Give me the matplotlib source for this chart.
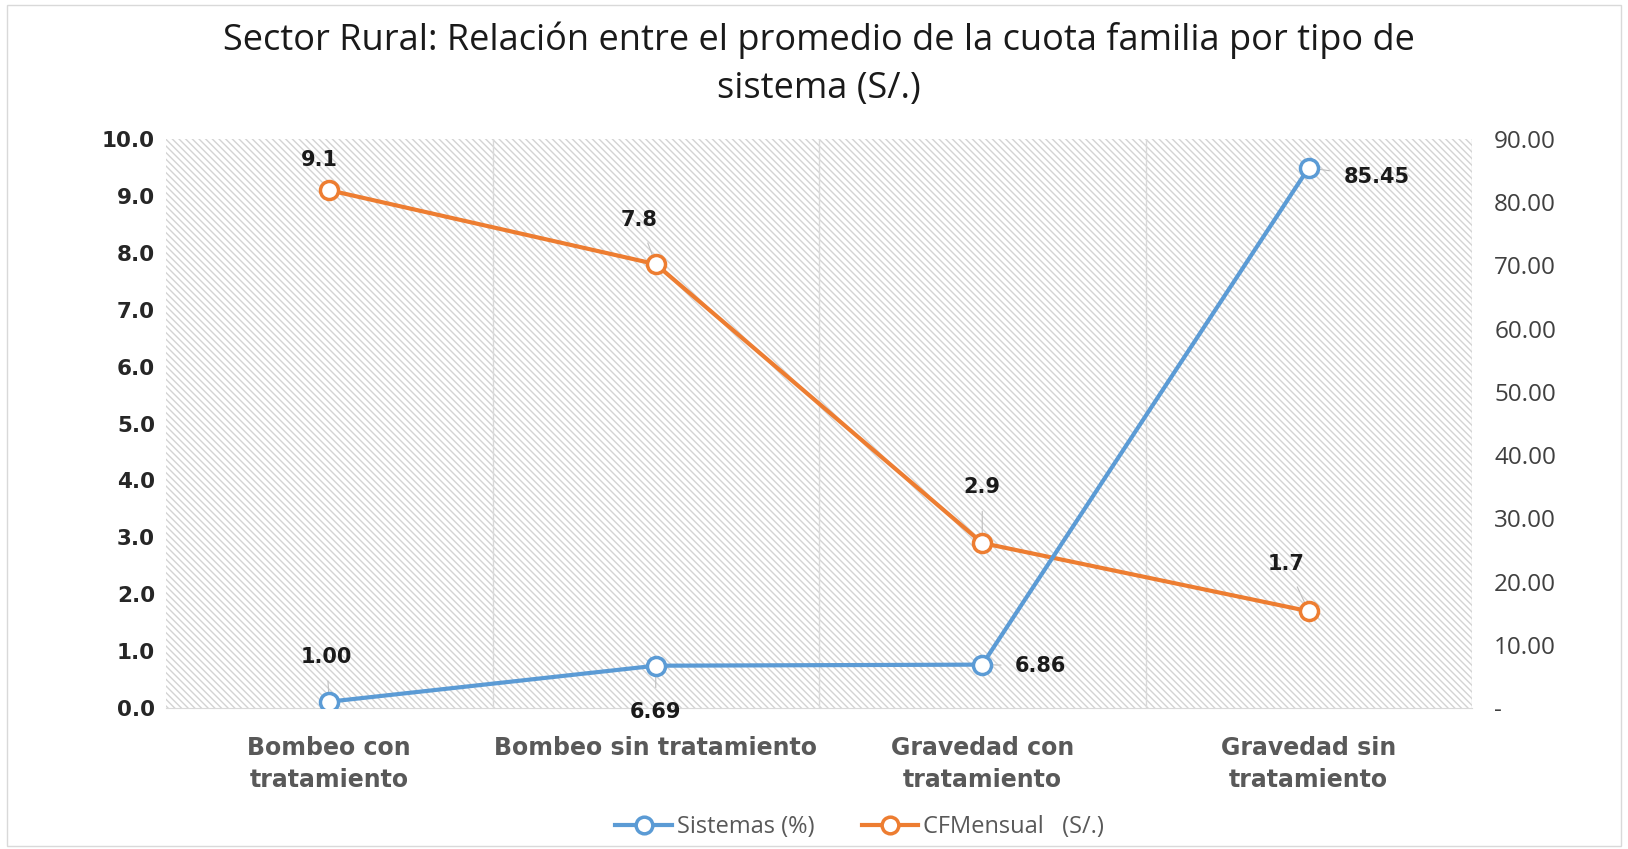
import matplotlib
matplotlib.use("Agg")
import matplotlib.pyplot as plt
from matplotlib.lines import Line2D

categories = ["Bombeo con\ntratamiento", "Bombeo sin tratamiento", "Gravedad con\ntratamiento", "Gravedad sin\ntratamiento"]
cf_mensual = [9.1, 7.8, 2.9, 1.7]
sistemas = [1.00, 6.69, 6.86, 85.45]
left_ticks = [0, 1, 2, 3, 4, 5, 6, 7, 8, 9, 10]
right_ticks = [0, 10, 20, 30, 40, 50, 60, 70, 80, 90]

blue = "#5B9BD5"
orange = "#ED7D31"
plt.rcParams["hatch.color"] = "#d3d3d3"
plt.rcParams["hatch.linewidth"] = 1.0

fig = plt.figure(figsize=(16.28, 8.49), dpi=100)
ax = fig.add_axes([166/1628, 1-708/849, (1472-166)/1628, (708-139)/849])
ax2 = ax.twinx()

x = list(range(len(categories)))
ax.set_xlim(-0.5, 3.5)
ax.set_ylim(0, 10)
ax2.set_ylim(0, 90)

ax.patch.set_facecolor("white")
ax.patch.set_hatch("\\\\\\\\\\")
ax.patch.set_edgecolor("#d3d3d3")

for b in [0.5, 1.5, 2.5, 3.5]:
    ax.axvline(b, color="#d9d9d9", lw=1, zorder=1)

ax.plot(x, cf_mensual, color=orange, lw=3, marker="o", ms=13, mfc="white", mec=orange, mew=2.5, zorder=5)
ax2.plot(x, sistemas, color=blue, lw=3, marker="o", ms=13, mfc="white", mec=blue, mew=2.5, zorder=5)

for s in ["top", "left", "right"]:
    ax.spines[s].set_visible(False)
    ax2.spines[s].set_visible(False)
ax.spines["bottom"].set_color("#d9d9d9")
ax2.spines["bottom"].set_visible(False)

ax.set_yticks(left_ticks)
ax.set_yticklabels([f"{v:.1f}" for v in left_ticks], fontsize=15.5, fontweight="bold", color="#262626", family="DejaVu Sans")
ax2.set_yticks(right_ticks)
ax2.set_yticklabels(["-" if v == 0 else f"{v:.2f}" for v in right_ticks], fontsize=17.5, color="#404040", family="Open Sans")
ax.tick_params(axis="y", length=0, pad=8)
ax2.tick_params(axis="y", length=0, pad=16)
ax.set_xticks(x)
ax.set_xticklabels(categories, fontsize=17, fontweight="bold", color="#595959", family="DejaVu Sans", linespacing=1.45)
ax.tick_params(axis="x", length=0, pad=20)

# data labels
cf_offsets = [(-7, 22), (-12, 32), (0, 40), (-16, 34)]
for xi, v, off in zip(x, cf_mensual, cf_offsets):
    ax.annotate(f"{v:.1f}", (xi, v), xytext=off, textcoords="offset points", ha="center", va="center",
                fontsize=15, fontweight="bold", color="#1a1a1a", family="DejaVu Sans",
                arrowprops=dict(arrowstyle="-", color="#bfbfbf", lw=0.8, shrinkA=8, shrinkB=7))
offsets = [(-2, 32), (0, -33), (42, -1), (49, -7)]
for xi, v, off in zip(x, sistemas, offsets):
    ax2.annotate(f"{v:.2f}", (xi, v), xytext=off, textcoords="offset points", ha="center", va="center",
                 fontsize=15, fontweight="bold", color="#1a1a1a", family="DejaVu Sans",
                 arrowprops=dict(arrowstyle="-", color="#bfbfbf", lw=0.8, shrinkA=8, shrinkB=7))

fig.text(0.503, 1-40/849, "Sector Rural: Relación entre el promedio de la cuota familia por tipo de", ha="center", va="center",
         fontsize=26, color="#1a1a1a", family="Open Sans")
fig.text(0.503, 1-89/849, "sistema (S/.)", ha="center", va="center", fontsize=26, color="#1a1a1a", family="Open Sans")

handles = [Line2D([], [], color=blue, lw=3, marker="o", ms=12, mfc="white", mec=blue, mew=2.5),
           Line2D([], [], color=orange, lw=3, marker="o", ms=12, mfc="white", mec=orange, mew=2.5)]
fig.legend(handles, ["Sistemas (%)", "CFMensual   (S/.)"], loc="center", bbox_to_anchor=(0.528, 1-827/849),
           ncol=2, frameon=False, prop={"family": "Open Sans", "size": 17}, handlelength=2.4,
           columnspacing=2.0, handletextpad=0.2, labelcolor="#595959")

border = plt.Rectangle((0.004, 0.004), 0.992, 0.99, transform=fig.transFigure, fill=False, ec="#d9d9d9", lw=1)
fig.patches.append(border)

fig.savefig("out.png", dpi=100)
